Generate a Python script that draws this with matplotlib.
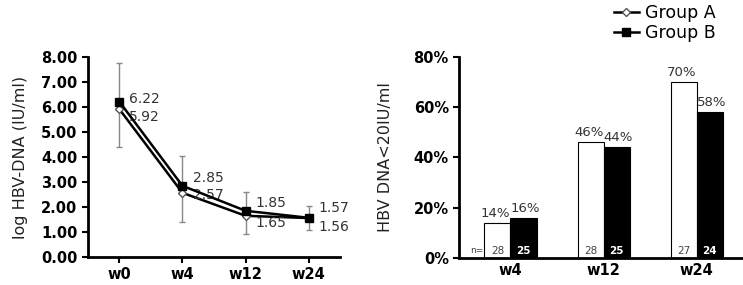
import matplotlib.pyplot as plt
import numpy as np

# --- données ---
semaines = ["w0", "w4", "w12", "w24"]
groupe_a = [5.92, 2.57, 1.65, 1.56]
groupe_b = [6.22, 2.85, 1.85, 1.57]
err_bas = [4.40, 1.40, 0.92, 1.10]
err_haut = [7.75, 4.05, 2.60, 2.05]

semaines_bar = ["w4", "w12", "w24"]
pct_a = [14, 46, 70]
pct_b = [16, 44, 58]
n_a = [28, 28, 27]
n_b = [25, 25, 24]

plt.rcParams['font.family'] = ['DejaVu Sans']

fig = plt.figure(figsize=(7.43, 2.85), dpi=100)

# --- graphique 1 : courbes ---
ax1 = fig.add_axes([0.118, 0.098, 0.340, 0.702])
x = np.arange(len(semaines))
moy = (np.array(err_bas) + np.array(err_haut)) / 2
ax1.errorbar(x, moy, yerr=(np.array(err_haut) - np.array(err_bas)) / 2,
             fmt='none', ecolor='#888888', elinewidth=1, capsize=2.5, zorder=1)
la, = ax1.plot(x, groupe_a, color='black', lw=1.8, marker='D', ms=4,
               mfc='white', mec='#555555', zorder=3, label="Group A")
lb, = ax1.plot(x, groupe_b, color='black', lw=1.8, marker='s', ms=6,
               mfc='black', mec='black', zorder=4, label="Group B")

# décalages des étiquettes (dernier point plus écarté)
dec_b = [0.1, 0.3, 0.3, 0.38]
dec_a = [-0.3, -0.1, -0.3, -0.36]
for i in range(len(semaines)):
    ax1.text(x[i] + 0.16, groupe_b[i] + dec_b[i], f"{groupe_b[i]:.2f}", fontsize=10,
             color='#333333', va='center', ha='left')
    ax1.text(x[i] + 0.16, groupe_a[i] + dec_a[i], f"{groupe_a[i]:.2f}", fontsize=10,
             color='#333333', va='center', ha='left')

ax1.set_xlim(-0.5, 3.5)
ax1.set_ylim(0, 8)
ax1.set_xticks(x)
ax1.set_xticklabels(semaines, fontsize=10.5, fontweight='bold')
ax1.set_yticks(np.arange(0, 9, 1))
ax1.set_yticklabels([f"{v:.2f}" for v in range(9)], fontsize=10.5, fontweight='bold')
ax1.set_ylabel("log HBV-DNA (IU/ml)", fontsize=11.5, color='#222222')
ax1.yaxis.set_label_coords(-0.238, 0.5)
for s in ['top', 'right']:
    ax1.spines[s].set_visible(False)
for s in ['left', 'bottom']:
    ax1.spines[s].set_linewidth(2)
ax1.tick_params(width=1.5, length=4)

# --- graphique 2 : barres ---
ax2 = fig.add_axes([0.618, 0.095, 0.380, 0.705])
xb = np.arange(len(semaines_bar))
w = 0.28
ax2.bar(xb - w / 2, pct_a, w, color='white', edgecolor='black', lw=0.8)
ax2.bar(xb + w / 2, pct_b, w, color='black', edgecolor='black', lw=0.8)
for i in range(len(semaines_bar)):
    ax2.text(xb[i] - w / 2 - 0.02, pct_a[i] + 1.2, f"{pct_a[i]}%", ha='center',
             va='bottom', fontsize=9.5, color='#333333')
    ax2.text(xb[i] + w / 2 + 0.02, pct_b[i] + 1.2, f"{pct_b[i]}%", ha='center',
             va='bottom', fontsize=9.5, color='#333333')
    ax2.text(xb[i] - w / 2, 2.8, str(n_a[i]), ha='center', va='center',
             fontsize=7.5, color='#444444')
    ax2.text(xb[i] + w / 2, 2.8, str(n_b[i]), ha='center', va='center',
             fontsize=7.5, color='white', fontweight='bold')
ax2.text(xb[0] - w - 0.01, 2.8, "n=", ha='right', va='center', fontsize=6.5,
         color='#444444')

ax2.set_xlim(-0.55, 2.48)
ax2.set_ylim(0, 80)
ax2.set_xticks(xb)
ax2.set_xticklabels(semaines_bar, fontsize=10.5, fontweight='bold')
ax2.set_yticks(np.arange(0, 81, 20))
ax2.set_yticklabels([f"{v}%" for v in range(0, 81, 20)], fontsize=10.5, fontweight='bold')
ax2.set_ylabel("HBV DNA<20IU/ml", fontsize=11.5, color='#222222')
ax2.yaxis.set_label_coords(-0.235, 0.5)
for s in ['top', 'right']:
    ax2.spines[s].set_visible(False)
for s in ['left', 'bottom']:
    ax2.spines[s].set_linewidth(2)
ax2.tick_params(axis='x', length=0)
ax2.tick_params(axis='y', width=1.5, length=4)

fig.legend(handles=[la, lb], loc='upper right', bbox_to_anchor=(0.985, 1.042),
           frameon=False, fontsize=12.5, handlelength=1.4, handletextpad=0.4,
           labelspacing=0.15)

fig.savefig("out.png", dpi=100)
